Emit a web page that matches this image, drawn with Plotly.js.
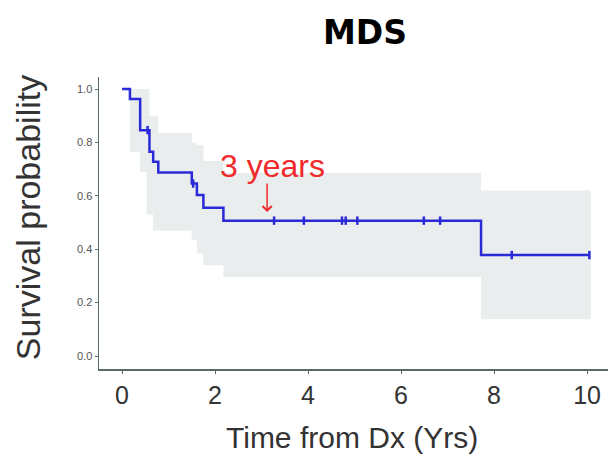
<!DOCTYPE html>
<html>
<head>
<meta charset="utf-8">
<script src="https://cdn.plot.ly/plotly-3.0.1.min.js"></script>
<style>html,body{margin:0;padding:0;background:#fff;}#chart{width:608px;height:456px;}</style>
</head>
<body>
<div id="chart"></div>
<script>
// Kaplan-Meier step curve (event times and survival after each step)
const kmTime = [0, 0.17, 0.39, 0.59, 0.67, 0.78, 1.50, 1.61, 1.75, 2.18, 7.72, 10.05];
const kmSurv = [1.0, 0.963, 0.846, 0.765, 0.728, 0.687, 0.646, 0.603, 0.555, 0.507, 0.378, 0.378];

// Censored observations
const censorTime = [0.55, 1.53, 3.27, 3.91, 4.73, 4.81, 5.06, 6.49, 6.84, 8.38, 10.05];
const censorSurv = [0.846, 0.646, 0.507, 0.507, 0.507, 0.507, 0.507, 0.507, 0.507, 0.378, 0.378];

// Confidence band (step)
const ciTime  = [0.17, 0.39, 0.53, 0.59, 0.67, 0.78, 1.50, 1.61, 1.75, 2.18, 7.72, 10.08];
const ciUpper = [1.0, 1.0, 1.0, 0.90, 0.90, 0.835, 0.80, 0.79, 0.73, 0.685, 0.62, 0.62];
const ciLower = [0.765, 0.69, 0.53, 0.53, 0.47, 0.47, 0.434, 0.386, 0.34, 0.296, 0.138, 0.138];

const xTicks = [0, 2, 4, 6, 8, 10];
const yTicks = [0, 0.2, 0.4, 0.6, 0.8, 1.0];
const yTickText = ['0.0', '0.2', '0.4', '0.6', '0.8', '1.0'];

const blue = '#2a2ad8';
const axisCol = '#5a6a6a';

const traces = [
  {x: ciTime, y: ciLower, type: 'scatter', mode: 'lines', line: {shape: 'hv', width: 0, color: 'rgba(0,0,0,0)'}, hoverinfo: 'skip', showlegend: false},
  {x: ciTime, y: ciUpper, type: 'scatter', mode: 'lines', line: {shape: 'hv', width: 0, color: 'rgba(0,0,0,0)'}, fill: 'tonexty', fillcolor: '#e9eded', hoverinfo: 'skip', showlegend: false},
  {x: kmTime, y: kmSurv, type: 'scatter', mode: 'lines', line: {shape: 'hv', width: 2.5, color: blue}, showlegend: false},
  {x: censorTime, y: censorSurv, type: 'scatter', mode: 'markers', marker: {symbol: 'line-ns-open', size: 6, line: {width: 2.5, color: blue}, color: blue}, showlegend: false}
];

const layout = {
  width: 608, height: 456,
  margin: {l: 99, r: 0, t: 77, b: 87},
  paper_bgcolor: '#fff', plot_bgcolor: '#fff',
  title: {text: '<b>MDS</b>', font: {family: 'DejaVu Sans', size: 33, color: '#000'}, x: 0.5226, xref: 'paper', y: 0.928, yref: 'container', yanchor: 'middle', xanchor: 'center'},
  xaxis: {
    range: [-0.495, 10.45], tickvals: xTicks, ticktext: xTicks.map(String),
    showgrid: false, zeroline: false, showline: true, linecolor: axisCol, linewidth: 1.5,
    ticks: 'outside', ticklen: 3, tickcolor: axisCol, tickwidth: 1,
    tickfont: {family: 'Liberation Sans', size: 25, color: '#333'}, ticklabelstandoff: 0
  },
  yaxis: {
    range: [-0.0487, 1.045], tickvals: yTicks, ticktext: yTickText,
    showgrid: false, zeroline: false, showline: true, linecolor: axisCol, linewidth: 1.5,
    ticks: 'outside', ticklen: 3, tickcolor: axisCol, tickwidth: 1,
    tickfont: {family: 'Liberation Sans', size: 11, color: '#555'}
  },
  annotations: [
    {text: 'Survival probability', xref: 'paper', yref: 'paper', x: -0.1395, y: 0.52, textangle: -90, showarrow: false, xanchor: 'center', yanchor: 'middle', font: {family: 'Liberation Sans', size: 34, color: '#333'}},
    {text: 'Time from Dx (Yrs)', xref: 'paper', yref: 'paper', x: 0.497, y: -0.235, showarrow: false, xanchor: 'center', yanchor: 'middle', font: {family: 'Liberation Sans', size: 30, color: '#333'}},
    {text: '3 years', xref: 'x', yref: 'y', x: 3.23, y: 0.712, showarrow: false, xanchor: 'center', yanchor: 'middle', font: {family: 'Liberation Sans', size: 32, color: '#f02a2a'}},
    {text: '', xref: 'x', yref: 'y', x: 3.12, y: 0.539, showarrow: true, ax: 0, ay: -30, arrowhead: 4, arrowsize: 1.2, arrowwidth: 1.5, arrowcolor: '#f02a2a'}
  ]
};

Plotly.newPlot('chart', traces, layout, {displayModeBar: false, staticPlot: true});
</script>
</body>
</html>
